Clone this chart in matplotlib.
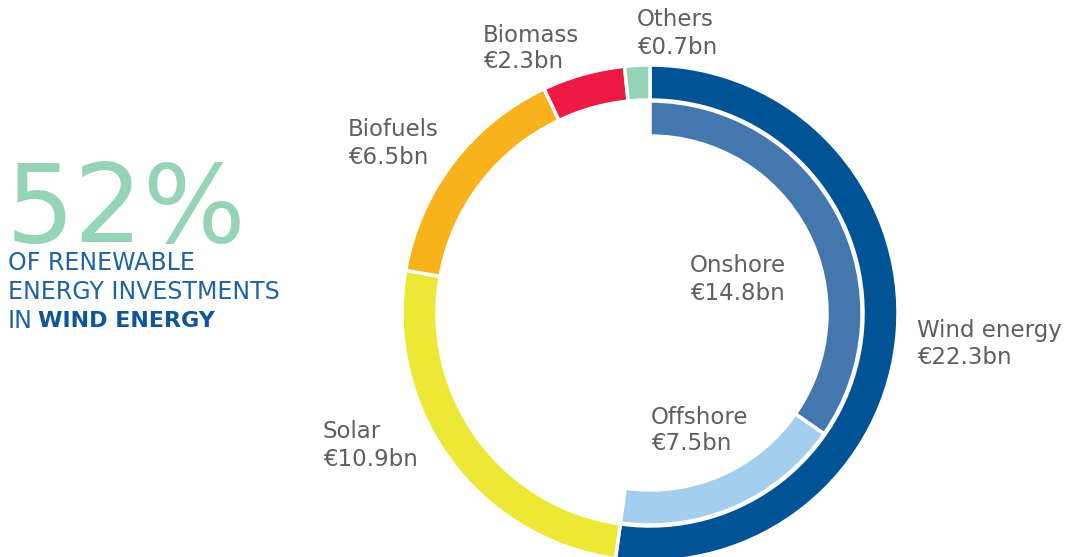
import numpy as np
import matplotlib.pyplot as plt

# outer ring: renewable investments (bn EUR)
sources = ['Wind energy', 'Solar', 'Biofuels', 'Biomass', 'Others']
amounts = [22.3, 10.9, 6.5, 2.3, 0.7]
source_colors = ['#005496', '#ECE835', '#F8B21C', '#EE1944', '#96D4B8']

# inner ring: split of wind energy
wind_parts = ['Onshore', 'Offshore']
wind_amounts = [14.8, 7.5]
wind_colors = ['#4577AF', '#A3CEEE']

share_wind = round(100 * amounts[0] / sum(amounts))

# label text and where it sits (pixel coords, y from top)
labels = ['Others', 'Biomass', 'Biofuels', 'Onshore', 'Wind energy', 'Offshore', 'Solar']
values = ['€0.7bn', '€2.3bn', '€6.5bn', '€14.8bn', '€22.3bn', '€7.5bn', '€10.9bn']
label_x = [637, 483, 348, 690, 917, 651, 323]
label_y = [20, 35, 130, 266, 331, 417, 432]

W, H = 1070, 557
fig = plt.figure(figsize=(W / 100, H / 100), dpi=100)
ax = fig.add_axes([0, 0, 1, 1])
ax.set_xlim(0, W)
ax.set_ylim(0, H)
ax.set_aspect('equal')
ax.axis('off')

cx, cy = 650, H - 313
r_out = 248

ax.pie(amounts, colors=source_colors, startangle=90, counterclock=False,
       radius=r_out, center=(cx, cy),
       wedgeprops=dict(width=35, edgecolor='white', linewidth=2.5))

rest = sum(amounts) - sum(wind_amounts)
inner, _ = ax.pie(wind_amounts + [rest], colors=wind_colors + ['white'],
                  startangle=90, counterclock=False,
                  radius=r_out - 36, center=(cx, cy),
                  wedgeprops=dict(width=35, edgecolor='white', linewidth=2.5))
inner[-1].set_visible(False)

ax.set_xlim(0, W)
ax.set_ylim(0, H)

grey = '#5f5f5f'
for lab, val, x, y in zip(labels, values, label_x, label_y):
    ax.text(x, H - y, lab, fontsize=16.5, color=grey, va='center', ha='left')
    ax.text(x, H - y - 27, val, fontsize=16.5, color=grey, va='center', ha='left')

# big number on the left
ax.text(6, H - 242, f'{share_wind}%', fontsize=78, color='#96D4B8',
        va='baseline', ha='left')
blue = '#1D63A6'
ax.text(8, H - 263, 'OF RENEWABLE', fontsize=17, color=blue, va='center', ha='left')
ax.text(8, H - 292, 'ENERGY INVESTMENTS', fontsize=17, color=blue, va='center', ha='left')
ax.text(8, H - 321, 'IN', fontsize=17, color=blue, va='center', ha='left')
ax.text(38, H - 321, 'WIND ENERGY', fontsize=16, color='#0F5699', fontweight='bold',
        va='center', ha='left')

fig.savefig('out.png', dpi=100)
